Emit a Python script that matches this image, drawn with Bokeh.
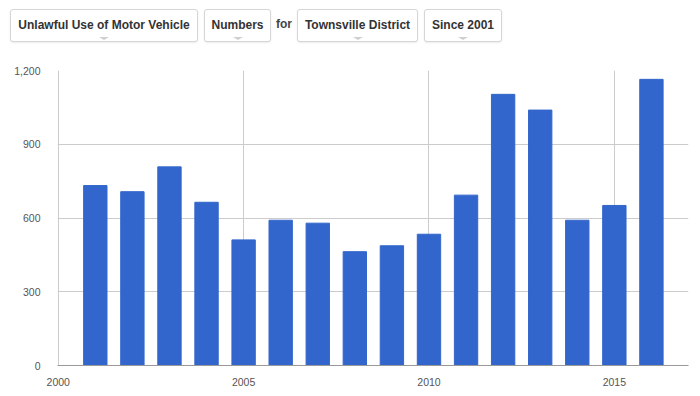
from bokeh.plotting import figure
from bokeh.models import Div, FixedTicker, NumeralTickFormatter, Range1d
from bokeh.layouts import column
from bokeh.embed import file_html
from bokeh.resources import INLINE

years = [2001, 2002, 2003, 2004, 2005, 2006, 2007, 2008, 2009, 2010, 2011, 2012, 2013, 2014, 2015, 2016]
counts = [732, 707, 808, 664, 511, 591, 579, 463, 487, 534, 693, 1103, 1039, 591, 651, 1164]
x_ticks = [2000, 2005, 2010, 2015]
y_ticks = [0, 300, 600, 900, 1200]
selectors = ["Unlawful Use of Motor Vehicle", "Numbers", "Townsville District", "Since 2001"]
connector = "for"

# header (dropdown-like boxes)
box_left = [10, 204, 297, 424]
box_width = [188, 67, 121, 78]
parts = []
for lbl, l, w in zip(selectors, box_left, box_width):
    parts.append(
        f'<div style="position:absolute;left:{l}px;top:9px;width:{w}px;height:33px;'
        f'box-sizing:border-box;border:1px solid #d6d6d6;border-radius:3px;'
        f'box-shadow:0 1px 2px rgba(0,0,0,0.08);background:#fff;'
        f'font-family:\'Liberation Sans\',Arial,sans-serif;font-weight:bold;font-size:12px;'
        f'color:#333;text-align:center;line-height:31px;white-space:nowrap;">{lbl}'
        f'<div style="position:absolute;left:50%;top:27px;margin-left:-5px;width:0;height:0;'
        f'border-left:5px solid transparent;border-right:5px solid transparent;'
        f'border-top:3px solid #cfcfcf;"></div></div>'
    )
parts.append(
    f'<div style="position:absolute;left:276px;top:9px;height:33px;line-height:31px;'
    f'font-family:\'Liberation Sans\',Arial,sans-serif;font-weight:bold;font-size:12px;color:#444;">{connector}</div>'
)
html = '<div style="position:relative;width:700px;height:50px;">' + "".join(parts) + "</div>"
header = Div(text=html, width=700, height=50, margin=0)

p = figure(width=700, height=338, output_backend="svg", toolbar_location=None,
           x_range=Range1d(1999.98, 2017), y_range=Range1d(0, 1200))
p.min_border_left = 57
p.min_border_right = 12
p.min_border_top = 20
p.min_border_bottom = 20
p.outline_line_color = None
p.background_fill_color = "white"
p.border_fill_color = "white"

p.vbar(x=years, top=counts, width=0.63, color="#3366CC")

p.xaxis.ticker = FixedTicker(ticks=x_ticks)
p.yaxis.ticker = FixedTicker(ticks=y_ticks)
p.yaxis.formatter = NumeralTickFormatter(format="0,0")
for ax in (p.xaxis, p.yaxis):
    ax.major_tick_line_color = None
    ax.minor_tick_line_color = None
    ax.major_label_text_font = "Liberation Sans"
    ax.major_label_text_font_size = "10.5px"
    ax.major_label_text_color = "#555555"
p.yaxis.axis_line_color = None
p.xaxis.axis_line_color = "#999999"
p.yaxis.major_label_standoff = 11
p.xaxis.major_label_standoff = 6

p.xgrid.grid_line_color = "#cccccc"
p.ygrid.grid_line_color = "#cccccc"

layout = column(header, p, spacing=0)
open("out.html", "w").write(file_html(layout, INLINE))
